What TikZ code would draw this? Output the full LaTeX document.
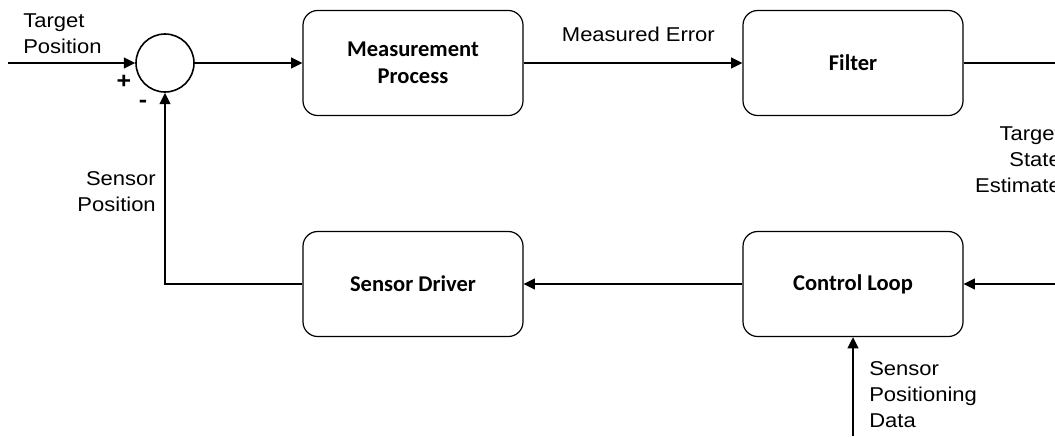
\documentclass[tikz,border=0pt]{standalone}
\usepackage{fontspec}
\setmainfont{Liberation Sans}[FakeStretch=1.1]
\newfontfamily\boxfont{Carlito}
\usepackage{tikz}
\usetikzlibrary{arrows.meta}
\tikzstyle{block}=[draw,line width=0.9pt,rounded corners=11pt,minimum width=165pt,minimum height=78.75pt,align=center,font=\boxfont\bfseries\fontsize{16.9}{20.2}\selectfont]
\tikzstyle{sumpt}=[draw,circle,line width=1.2pt,minimum size=43.5pt,inner sep=0pt]
\tikzstyle{lbl}=[inner sep=0pt,font=\fontsize{15}{19.5}\selectfont]
\tikzstyle{sig}=[line width=1.5pt,-{Triangle[length=8.5pt,width=8pt]}]

\begin{document}
\begin{tikzpicture}[x=0.75pt,y=-0.75pt]
	\useasboundingbox (0,0) rectangle (1055,436);
	\clip (0,0) rectangle (1055,436);
	\node [sumpt] (sum) at (165,63) {};
	\node [block] (meas) at (413,63) {Measurement\\Process};
	\node [block] (filt) at (853,63) {Filter};
	\node [block] (drv) at (413,284) {Sensor Driver};
	\node [block] (ctrl) at (853,284) {Control Loop};
	\coordinate (inp) at (8,63);
	\coordinate (rturn) at (1068,0);
	\coordinate (sdat) at (853,436);
	\draw [sig] (inp) -- (sum);
	\draw [sig] (sum) -- (meas);
	\draw [sig] (meas) -- node [lbl,above=15pt,xshift=4pt] {Measured Error} (filt);
	\draw [sig] (filt) -- (filt -| rturn) |- (ctrl);
	\draw [sig] (ctrl) -- (drv);
	\draw [sig] (drv) -| (sum);
	\draw [sig] (sdat) -- (ctrl);
	\node [lbl,anchor=north west,align=left] (tpos) at (23,13) {Target\\Position};
	\node [lbl,font=\bfseries\fontsize{17}{20}\selectfont] (plus) at (124,82) {+};
	\node [lbl,font=\bfseries\fontsize{17}{20}\selectfont] (minus) at (143,104) {-};
	\node [lbl,anchor=north east,align=right] (spos) at (156,171) {Sensor\\Position};
	\node [lbl,anchor=north east,align=right] (tse) at (1061,126) {Target\\State\\Estimate};
	\node [lbl,anchor=north west,align=left] (spd) at (869,361) {Sensor\\Positioning\\Data};
\end{tikzpicture}
\end{document}
